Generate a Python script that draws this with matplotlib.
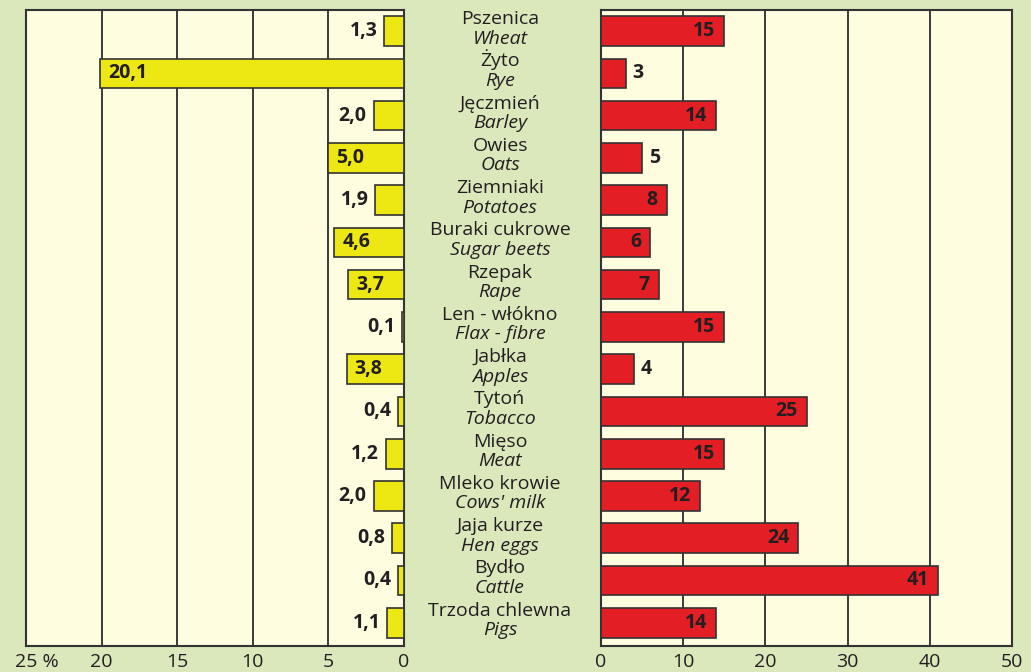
import matplotlib
matplotlib.use("Agg")
import matplotlib.pyplot as plt
import matplotlib.transforms as mtransforms

plt.rcParams['font.family'] = ['Open Sans', 'DejaVu Sans']

# Crop / product names (Polish, English)
names_pl = ["Pszenica", "Żyto", "Jęczmień", "Owies", "Ziemniaki", "Buraki cukrowe",
            "Rzepak", "Len - włókno", "Jabłka", "Tytoń", "Mięso", "Mleko krowie",
            "Jaja kurze", "Bydło", "Trzoda chlewna"]
names_en = ["Wheat", "Rye", "Barley", "Oats", "Potatoes", "Sugar beets", "Rape",
            "Flax - fibre", "Apples", "Tobacco", "Meat", "Cows' milk", "Hen eggs",
            "Cattle", "Pigs"]

# Left panel: percentage values
share_pct = [1.3, 20.1, 2.0, 5.0, 1.9, 4.6, 3.7, 0.1, 3.8, 0.4, 1.2, 2.0, 0.8, 0.4, 1.1]
# Right panel: values
rank_vals = [15, 3, 14, 5, 8, 6, 7, 15, 4, 25, 15, 12, 24, 41, 14]

left_ticks = [25, 20, 15, 10, 5, 0]
left_ticklabels = ["25 %", "20", "15", "10", "5", "0"]
right_ticks = [0, 10, 20, 30, 40, 50]

BG = "#dae8bc"
PANEL = "#fffde0"
YELLOW = "#ede813"
RED = "#e31e25"
EDGE = "#333333"
GRID = "#3a3a3a"
TXT = "#231f20"
FS = 14

W, H = 1031, 672
fig = plt.figure(figsize=(W / 100, H / 100), dpi=100, facecolor=BG)

top, bottom = 10, 646
ax_l = fig.add_axes([26 / W, (H - bottom) / H, (404 - 26) / W, (bottom - top) / H])
ax_r = fig.add_axes([601 / W, (H - bottom) / H, (1012 - 601) / W, (bottom - top) / H])

ypos = list(range(len(names_pl)))

for ax in (ax_l, ax_r):
    ax.set_facecolor(PANEL)
    ax.set_axisbelow(True)
    ax.grid(axis='x', color=GRID, linewidth=1.4)
    ax.grid(axis='y', visible=False)
    ax.set_ylim(14.55, -0.5)
    ax.set_yticks([])
    ax.tick_params(axis='x', length=0, pad=5, labelsize=FS, labelcolor=TXT)
    for s in ax.spines.values():
        s.set_color(EDGE)
        s.set_linewidth(1.5)

# Left panel
ax_l.barh(ypos, share_pct, height=0.7, color=YELLOW, edgecolor=EDGE, linewidth=1.2, zorder=3)
ax_l.set_xlim(25, 0)
ax_l.set_xticks(left_ticks)
ax_l.set_xticklabels(left_ticklabels)
# keep the number of the "25 %" label centred on its gridline
first = ax_l.get_xticklabels()[0]
first.set_transform(first.get_transform() +
                    mtransforms.ScaledTranslation(11 / 100, 0, fig.dpi_scale_trans))
for y, v in zip(ypos, share_pct):
    lab = f"{v:.1f}".replace(".", ",")
    if v >= 3:
        ax_l.annotate(lab, (v, y), xytext=(8, 0), textcoords='offset pixels',
                      ha='left', va='center', fontsize=FS, fontweight='bold',
                      color=TXT, zorder=4)
    else:
        ax_l.annotate(lab, (v, y), xytext=(-7, 0), textcoords='offset pixels',
                      ha='right', va='center', fontsize=FS, fontweight='bold',
                      color=TXT, zorder=4)

# Right panel
ax_r.barh(ypos, rank_vals, height=0.7, color=RED, edgecolor=EDGE, linewidth=1.2, zorder=3)
ax_r.set_xlim(0, 50)
ax_r.set_xticks(right_ticks)
for y, v in zip(ypos, rank_vals):
    if v >= 6:
        ax_r.annotate(str(v), (v, y), xytext=(-9, 0), textcoords='offset pixels',
                      ha='right', va='center', fontsize=FS, fontweight='bold',
                      color=TXT, zorder=4)
    else:
        ax_r.annotate(str(v), (v, y), xytext=(7, 0), textcoords='offset pixels',
                      ha='left', va='center', fontsize=FS, fontweight='bold',
                      color=TXT, zorder=4)

# Category names between the panels
x_mid = (500 - 601) / (1012 - 601)
trans = ax_r.get_yaxis_transform()
for y, pl, en in zip(ypos, names_pl, names_en):
    ax_r.annotate(pl, (x_mid, y), xycoords=trans, xytext=(0, 7), textcoords='offset pixels',
                  ha='center', va='baseline', fontsize=FS, color=TXT, annotation_clip=False)
    ax_r.annotate(en, (x_mid, y), xycoords=trans, xytext=(0, -12.5), textcoords='offset pixels',
                  ha='center', va='baseline', fontsize=FS, fontstyle='italic', color=TXT,
                  annotation_clip=False)

fig.savefig("out.png", dpi=100, facecolor=BG)
